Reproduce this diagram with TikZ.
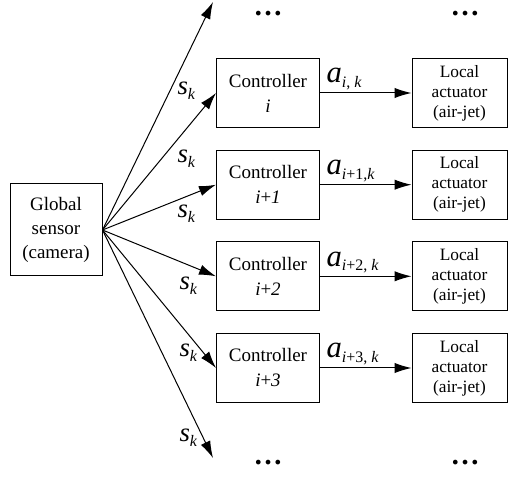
\documentclass[tikz,border=0pt]{standalone}
\usepackage{fontspec}
\setmainfont{Liberation Serif}[Extension=.ttf, UprightFont=LiberationSerif-Regular,
    ItalicFont=LiberationSerif-Italic, BoldFont=LiberationSerif-Bold,
    BoldItalicFont=LiberationSerif-BoldItalic]
\usepackage{tikz}
\usetikzlibrary{arrows.meta}

\newcommand{\sym}[3][20]{{\fontsize{#1}{#1}\selectfont\itshape #2}\raisebox{-3.5pt}{\fontsize{12}{12}\selectfont #3}}

\begin{document}
\begin{tikzpicture}[x=0.75pt,y=-0.75pt,line width=0.75pt,>={Latex[length=12.75pt,width=7.75pt]},
    sensorbox/.style={draw, align=center, minimum width=69pt, minimum height=69pt, inner sep=0pt,
        font=\fontsize{14.25}{18}\selectfont},
    ctrlbox/.style={draw, align=center, minimum width=77.25pt, minimum height=51.75pt, inner sep=0pt,
        font=\fontsize{14.25}{18.75}\selectfont},
    actbox/.style={draw, align=center, minimum width=71.25pt, minimum height=51.75pt, inner sep=0pt,
        font=\fontsize{13}{15}\selectfont},
    lab/.style={inner sep=0pt, anchor=base west},
    dots/.style={inner sep=0pt, anchor=base, text height=4pt, font=\fontsize{21.75}{22}\selectfont\bfseries}]

    \useasboundingbox (0,0) rectangle (508,481);

    % Global sensor
    \node[sensorbox] (sensor) at (56,230) {Global\\sensor\\(camera)};

    % Controllers
    \node[ctrlbox] (ctrl1) at (268,93) {Controller\\\textit{i}};
    \node[ctrlbox] (ctrl2) at (268,184.7) {Controller\\\textit{i}+\textit{1}};
    \node[ctrlbox] (ctrl3) at (268,276.3) {Controller\\\textit{i}+\textit{2}};
    \node[ctrlbox] (ctrl4) at (268,368) {Controller\\\textit{i}+\textit{3}};

    % Local actuators
    \node[actbox] (act1) at (459.5,93) {Local\\actuator\\(air-jet)};
    \node[actbox] (act2) at (459.5,184.7) {Local\\actuator\\(air-jet)};
    \node[actbox] (act3) at (459.5,276.3) {Local\\actuator\\(air-jet)};
    \node[actbox] (act4) at (459.5,368) {Local\\actuator\\(air-jet)};

    % Dots for the rest
    \node[dots] (dotsc1) at (268,15.5) {…};
    \node[dots] (dotsa1) at (465,15.5) {…};
    \node[dots] (dotsc2) at (268,464.5) {…};
    \node[dots] (dotsa2) at (465,464.5) {…};

    % Free ends of the outer arrows
    \coordinate (top) at (213,2);
    \coordinate (bot) at (213,458);

    % Draw the sensor arrows
    \draw[->] (sensor.east) -- (top);
    \draw[->] (sensor.east) -- (ctrl1.west);
    \draw[->] (sensor.east) -- (ctrl2.west);
    \draw[->] (sensor.east) -- (ctrl3.west);
    \draw[->] (sensor.east) -- (ctrl4.west);
    \draw[->] (sensor.east) -- (bot);

    % Draw the controller arrows
    \draw[->] (ctrl1) -- (act1);
    \draw[->] (ctrl2) -- (act2);
    \draw[->] (ctrl3) -- (act3);
    \draw[->] (ctrl4) -- (act4);

    % Label the sensor arrows
    \node[lab] (s1) at (177,95) {\sym{s}{\textit{k}}};
    \node[lab] (s2) at (177,163) {\sym{s}{\textit{k}}};
    \node[lab] (s3) at (177,218) {\sym{s}{\textit{k}}};
    \node[lab] (s4) at (179,290) {\sym{s}{\textit{k}}};
    \node[lab] (s5) at (179,357) {\sym{s}{\textit{k}}};
    \node[lab] (s6) at (179,442) {\sym{s}{\textit{k}}};

    % Label the controller arrows
    \node[lab] (a1) at (326,83) {\sym[23]{a}{\textit{i}, \textit{k}}};
    \node[lab] (a2) at (326,174.7) {\sym[23]{a}{\textit{i}+1,\textit{k}}};
    \node[lab] (a3) at (326,266.3) {\sym[23]{a}{\textit{i}+2, \textit{k}}};
    \node[lab] (a4) at (326,358) {\sym[23]{a}{\textit{i}+3, \textit{k}}};
\end{tikzpicture}
\end{document}
